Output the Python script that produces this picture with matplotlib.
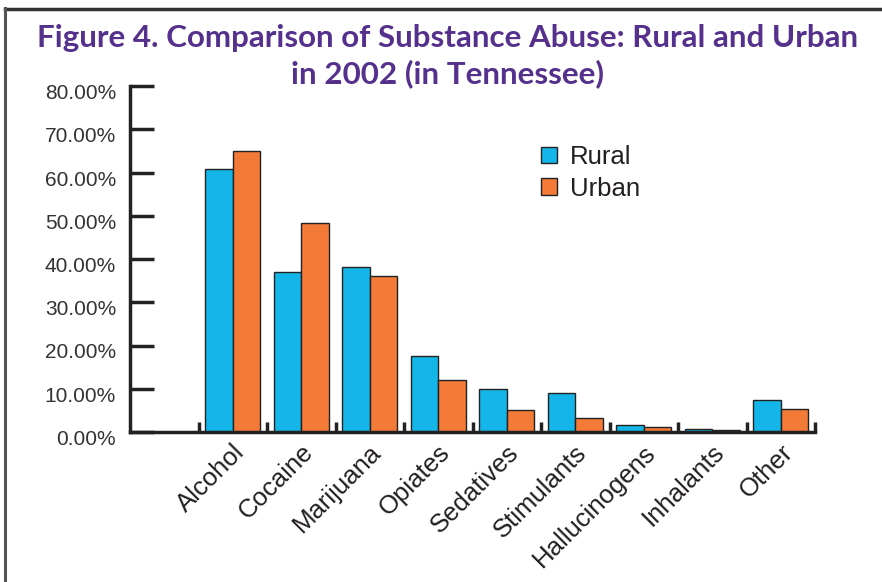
import matplotlib
matplotlib.use("Agg")
import matplotlib.pyplot as plt
from matplotlib.lines import Line2D
from matplotlib.transforms import ScaledTranslation
import numpy as np

categories = ["Alcohol", "Cocaine", "Marijuana", "Opiates", "Sedatives",
              "Stimulants", "Hallucinogens", "Inhalants", "Other"]
rural = [60.8, 36.9, 38.2, 17.5, 9.9, 9.0, 1.6, 0.6, 7.5]
urban = [65.0, 48.3, 36.0, 12.1, 5.0, 3.2, 1.2, 0.5, 5.4]
yticks = [0, 10, 20, 30, 40, 50, 60, 70, 80]
ytick_labels = ["0.00%", "10.00%", "20.00%", "30.00%", "40.00%",
                "50.00%", "60.00%", "70.00%", "80.00%"]
title_lines = ["Figure 4. Comparison of Substance Abuse: Rural and Urban",
               "in 2002 (in Tennessee)"]

BLUE = "#14b5e8"
ORANGE = "#f47a38"
EDGE = "#222222"
PURPLE = "#55308d"
TEXT = "#231f20"

plt.rcParams["font.family"] = ["Liberation Sans", "DejaVu Sans"]

W, H = 882, 582
fig = plt.figure(figsize=(W / 100, H / 100), dpi=100)
ax = fig.add_axes([130 / W, (H - 432) / H, 685 / W, 346 / H])

x = np.arange(len(categories))
bw = 0.4
ax.bar(x - bw / 2, rural, width=bw, color=BLUE, edgecolor=EDGE, linewidth=1.0, label="Rural")
ax.bar(x + bw / 2, urban, width=bw, color=ORANGE, edgecolor=EDGE, linewidth=1.0, label="Urban")

ax.set_xlim(-1.5, len(categories) - 0.5)
ax.set_ylim(0, 80)

for side in ("top", "right"):
    ax.spines[side].set_visible(False)
for side in ("left", "bottom"):
    ax.spines[side].set_linewidth(2.5)
    ax.spines[side].set_color(EDGE)

ax.set_yticks(yticks)
ax.set_yticklabels(ytick_labels)
ax.tick_params(axis="y", direction="in", length=17, width=2.5, color=EDGE,
               pad=10, labelsize=15, labelcolor="#333333")
for lab in ax.get_yticklabels():
    lab.set_transform(lab.get_transform() + ScaledTranslation(0, -0.055, fig.dpi_scale_trans))

ax.set_xticks(np.arange(-0.5, len(categories), 1.0))
ax.set_xticklabels([])
ax.tick_params(axis="x", which="major", direction="in", length=7, width=2.5, color=EDGE)
ax.set_xticks(x, minor=True)
ax.set_xticklabels(categories, minor=True, rotation=45, ha="right", va="center",
                   rotation_mode="anchor", fontsize=18.5, color=TEXT)
ax.tick_params(axis="x", which="minor", length=0, pad=12)
for lab in ax.get_xticklabels(minor=True):
    lab.set_transform(lab.get_transform() + ScaledTranslation(0.08, 0, fig.dpi_scale_trans))

leg = ax.legend(loc="upper left", bbox_to_anchor=(541 / W, 1 - 145 / H),
                bbox_transform=fig.transFigure, frameon=False, fontsize=18.5,
                handlelength=0.62, handleheight=0.62, handletextpad=0.5,
                labelspacing=0.3, borderpad=0, borderaxespad=0)
for t in leg.get_texts():
    t.set_color(TEXT)

fig.text(0.507, 1 - 38 / H, title_lines[0], ha="center", va="center", fontsize=22.6,
         fontweight="bold", color=PURPLE, family=["Lato", "DejaVu Sans"])
fig.text(0.507, 1 - 74 / H, title_lines[1], ha="center", va="center", fontsize=22.6,
         fontweight="bold", color=PURPLE, family=["Lato", "DejaVu Sans"])

fig.add_artist(Line2D([5 / W, 1], [1 - 8.5 / H, 1 - 8.5 / H], transform=fig.transFigure,
                      color="#333333", linewidth=2.5))
fig.add_artist(Line2D([5 / W, 5 / W], [0, 1 - 8 / H], transform=fig.transFigure,
                      color="#555555", linewidth=2.2))

fig.savefig("out.png", dpi=100)
